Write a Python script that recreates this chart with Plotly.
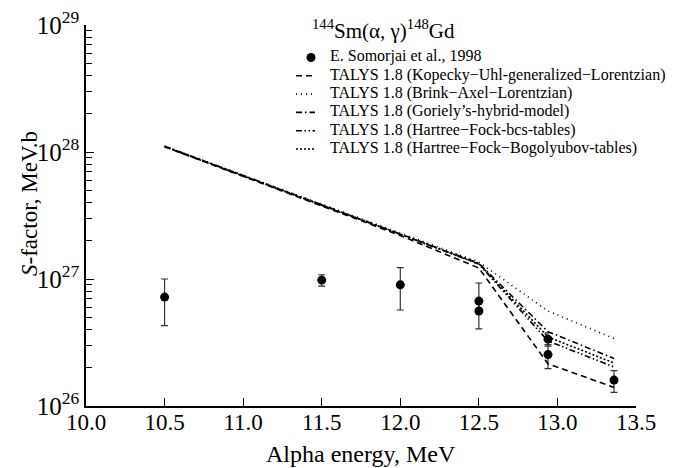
import plotly.graph_objects as go

# ---- data ----
exp_energy = [10.5, 11.5, 12.0, 12.5, 12.5, 12.94, 12.94, 13.36]
exp_s = [7.2e26, 9.8e26, 9.0e26, 6.7e26, 5.6e26, 3.36e26, 2.54e26, 1.6e26]
exp_err_plus = [2.8e26, 1.0e26, 3.3e26, 2.6e26, 1.2e26, 0.4e26, 0.5e26, 0.3e26]
exp_err_minus = [2.9e26, 1.0e26, 3.3e26, 1.2e26, 1.55e26, 0.4e26, 0.57e26, 0.32e26]

model_energy = [10.5, 11.0, 11.5, 12.0, 12.5, 12.94, 13.36]
kopecky = [1.10e28, 6.45e27, 3.75e27, 2.2e27, 1.22e27, 2.15e26, 1.40e26]
brink = [1.11e28, 6.55e27, 3.87e27, 2.28e27, 1.36e27, 5.6e26, 3.4e26]
goriely = [1.11e28, 6.5e27, 3.84e27, 2.26e27, 1.33e27, 3.85e26, 2.37e26]
hf_bcs = [1.10e28, 6.45e27, 3.8e27, 2.25e27, 1.31e27, 3.25e26, 2.03e26]
hfb = [1.11e28, 6.5e27, 3.83e27, 2.26e27, 1.32e27, 3.5e26, 2.18e26]

x_ticks = [10.0, 10.5, 11.0, 11.5, 12.0, 12.5, 13.0, 13.5]
y_ticks = [1e26, 1e27, 1e28, 1e29]
y_ticktext = ["10<sup>26</sup>", "10<sup>27</sup>", "10<sup>28</sup>", "10<sup>29</sup>"]
y_minor = [float(m) * 10.0 ** d for d in (26, 27, 28) for m in range(2, 10)]

legend_labels = [
    "E. Somorjai et al., 1998",
    "TALYS 1.8 (Kopecky\u2212Uhl-generalized\u2212Lorentzian)",
    "TALYS 1.8 (Brink\u2212Axel\u2212Lorentzian)",
    "TALYS 1.8 (Goriely\u2019s-hybrid-model)",
    "TALYS 1.8 (Hartree\u2212Fock-bcs-tables)",
    "TALYS 1.8 (Hartree\u2212Fock\u2212Bogolyubov-tables)",
]
model_series = [kopecky, brink, goriely, hf_bcs, hfb]
model_dashes = ["6px,4px", "1px,4px", "6px,3px,1.5px,3px",
                "6px,2.5px,1.5px,2.5px,1.5px,2.5px", "2px,2px"]

FONT = "Liberation Serif"

# plot-area geometry in pixels (for paper-coordinate placement of legend/labels)
L, R, T, B = 86, 636, 25, 406
def px(xp):
    return (xp - L) / (R - L)
def py(yp):
    return (B - yp) / (B - T)

fig = go.Figure()
fig.add_trace(go.Scatter(
    x=exp_energy, y=exp_s, mode="markers", name=legend_labels[0],
    marker=dict(color="black", size=9), showlegend=False,
    error_y=dict(type="data", array=exp_err_plus, arrayminus=exp_err_minus,
                 color="#333333", thickness=1.2, width=3.5),
))
for name, vals, dash in zip(legend_labels[1:], model_series, model_dashes):
    fig.add_trace(go.Scatter(
        x=model_energy, y=vals, mode="lines", name=name, showlegend=False,
        line=dict(color="black", width=1.6, dash=dash),
    ))

# custom legend (compact row spacing as in the reference)
row0, row_step = 56.5, 18.3
shapes = []
annotations = []
for i, label in enumerate(legend_labels):
    yc = row0 + i * row_step
    if i == 0:
        shapes.append(dict(type="circle", xref="paper", yref="paper",
                           xsizemode="pixel", ysizemode="pixel",
                           xanchor=px(311), yanchor=py(yc + 1),
                           x0=-4.5, x1=4.5, y0=-4.5, y1=4.5,
                           fillcolor="black", line=dict(color="black", width=0)))
    else:
        shapes.append(dict(type="line", xref="paper", yref="paper",
                           x0=px(296), x1=px(315), y0=py(yc + 1), y1=py(yc + 1),
                           line=dict(color="black", width=1.6, dash=model_dashes[i - 1])))
    annotations.append(dict(text=label, xref="paper", yref="paper",
                            x=px(328), y=py(yc), xanchor="left", yanchor="middle",
                            showarrow=False,
                            font=dict(family=FONT, size=16, color="black")))

annotations.append(dict(text="<i>S</i>-factor, MeV.b", textangle=-90, xref="paper", yref="paper",
                        x=px(29), y=py(204), xanchor="center", yanchor="middle", showarrow=False,
                        font=dict(family=FONT, size=23, color="black")))
annotations.append(dict(text="Alpha energy, MeV", xref="paper", yref="paper",
                        x=px(361), y=py(454), xanchor="center", yanchor="middle", showarrow=False,
                        font=dict(family=FONT, size=24, color="black")))
annotations.append(dict(text="<sup>144</sup>Sm(\u03b1, \u03b3)<sup>148</sup>Gd", xref="paper", yref="paper",
                        x=px(383), y=py(29), xanchor="center", yanchor="middle", showarrow=False,
                        font=dict(family=FONT, size=21, color="black")))

fig.update_layout(
    width=676, height=468,
    margin=dict(l=L, r=676 - R, t=T, b=468 - B),
    paper_bgcolor="white", plot_bgcolor="white",
    font=dict(family=FONT, color="black"),
    showlegend=False,
    xaxis=dict(
        range=[10.0, 13.5], tickvals=x_ticks, ticktext=[f"{v:.1f}" for v in x_ticks],
        ticks="inside", ticklen=8, tickcolor="black", tickwidth=1.2,
        showline=True, linecolor="black", linewidth=1.5, mirror=False,
        showgrid=False, zeroline=False, ticklabelstandoff=-5, automargin=False,
        tickfont=dict(family=FONT, size=23, color="black"),
    ),
    yaxis=dict(
        type="log", range=[26, 29], tickvals=y_ticks, ticktext=y_ticktext,
        ticks="inside", ticklen=8, tickcolor="black", tickwidth=1.2,
        minor=dict(tickvals=y_minor, ticks="inside", ticklen=6, tickcolor="black", tickwidth=1.2),
        showline=True, linecolor="black", linewidth=1.5, mirror=False,
        showgrid=False, zeroline=False, automargin=False,
        tickfont=dict(family=FONT, size=25, color="black"),
    ),
    shapes=shapes,
    annotations=annotations,
)

fig.write_html("out.html")
